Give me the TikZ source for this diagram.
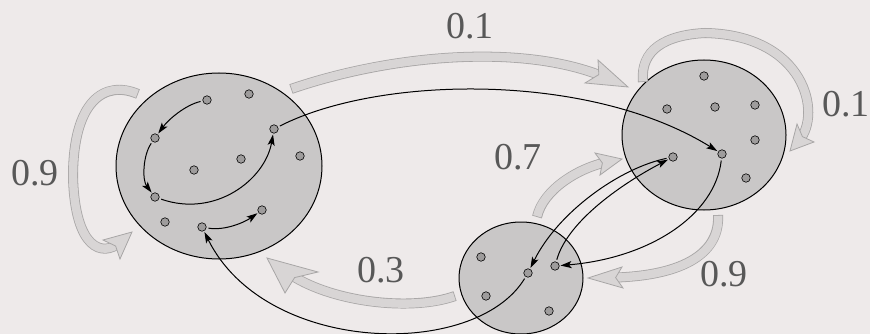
\documentclass[tikz,border=0pt]{standalone}
\usepackage{fontspec}
\setmainfont{Liberation Serif}
\usetikzlibrary{arrows.meta,shapes.geometric}
\definecolor{bg}{RGB}{238,234,234}
\definecolor{regionfill}{RGB}{201,199,199}
\definecolor{dotfill}{RGB}{158,156,156}
\definecolor{flowfill}{RGB}{216,213,213}
\definecolor{flowline}{RGB}{168,166,166}
\definecolor{labelgray}{RGB}{88,88,88}
\tikzset{
 region/.style={ellipse, draw=black, line width=1pt, fill=regionfill, inner sep=0pt},
 state/.style={circle, draw=black, line width=0.6pt, fill=dotfill, minimum size=8.5pt, inner sep=0pt},
 conn/.style={draw=black, line width=1pt, -{Stealth[length=11pt,width=7pt,inset=2.5pt]}, shorten <=2pt, shorten >=1pt},
 flowout/.style={draw=flowline, line width=10pt},
 flowin/.style={draw=flowfill, line width=8.4pt, shorten <=0.8pt},
 flowhead/.style={draw=flowline, fill=flowfill, line width=0.8pt, line join=miter},
 prob/.style={text=labelgray, font=\fontsize{38}{40}\selectfont, inner sep=0pt}
}
\newcommand\flowshaft[1]{\path[flowout] #1; \path[flowin] #1;}
\begin{document}
\begin{tikzpicture}[x=1pt,y=-1pt]
\useasboundingbox (0,0) rectangle (870,334);
\fill[bg] (0,0) rectangle (870,334);

% regions
\node[region, minimum width=206pt, minimum height=186pt] (A) at (219,166) {};
\node[region, minimum width=164pt, minimum height=150pt] (C) at (704,135) {};
\node[region, minimum width=124pt, minimum height=112pt] (B) at (521,278) {};

% wide probability arrows
\flowshaft{(291,89) .. controls (390,55) and (523,42.5) .. (606.1,77.7)}
\draw[flowhead] (628,87) -- (598,60) -- (598.8,74.6) -- (585,83) -- cycle;

\flowshaft{(138,94) .. controls (105,80) and (73,100) .. (73,177) .. controls (75,250) and (103,257) .. (119.7,242.5)}
\draw[flowhead] (132,232) -- (103,240) -- (115.6,246) -- (120,259) -- cycle;

\flowshaft{(643,82) .. controls (640,50) and (665,35) .. (705,33) .. controls (805,35) and (822.1,113.7) .. (799.3,140.2)}
\draw[flowhead] (790,151) -- (797,124) -- (802.4,136.6) -- (814,142) -- cycle;

\flowshaft{(537,217) .. controls (543,190) and (577.9,168) .. (607.3,162)}
\draw[flowhead] (622,159) -- (595,153) -- (602.4,163) -- (600,175) -- cycle;

\flowshaft{(718,215) .. controls (720,250) and (688.7,276.5) .. (608.7,277.7)}
\draw[flowhead] (588,278) -- (622,267) -- (615.6,277.6) -- (623,288) -- cycle;

\flowshaft{(455,296) .. controls (410,312) and (328.5,301.7) .. (287.7,272.7)}
\draw[flowhead] (267,258) -- (318,272) -- (294.6,277.6) -- (285,293) -- cycle;

% labels
\node[prob] (p1) at (470,26) {0.1};
\node[prob] (p2) at (35,173) {0.9};
\node[prob] (p3) at (846,104) {0.1};
\node[prob] (p4) at (518,157) {0.7};
\node[prob] (p5) at (724,274) {0.9};
\node[prob] (p6) at (381,270) {0.3};

% states
\node[state] (L1) at (207,100) {};
\node[state] (L2) at (249,94) {};
\node[state] (L3) at (155,138) {};
\node[state] (L4) at (274,129) {};
\node[state] (L5) at (241,159) {};
\node[state] (L6) at (194,170) {};
\node[state] (L7) at (300,156) {};
\node[state] (L8) at (155,197) {};
\node[state] (L9) at (165,222) {};
\node[state] (L10) at (202,227) {};
\node[state] (L11) at (262,210) {};

\node[state] (R1) at (704,76) {};
\node[state] (R2) at (667,109) {};
\node[state] (R3) at (715,107) {};
\node[state] (R4) at (755,105) {};
\node[state] (R5) at (755,140) {};
\node[state] (R6) at (673,157) {};
\node[state] (R7) at (722,154) {};
\node[state] (R8) at (746,178) {};

\node[state] (S1) at (481,257) {};
\node[state] (S2) at (528,273) {};
\node[state] (S3) at (555,266) {};
\node[state] (S4) at (486,296) {};
\node[state] (S5) at (549,311) {};

% transitions
\draw[conn] (L1) .. controls (185,105) and (168,120) .. (L3);
\draw[conn] (L3) .. controls (143,155) and (142,180) .. (L8);
\draw[conn] (L8) .. controls (215,218) and (265,180) .. (L4);
\draw[conn] (L10) .. controls (225,231) and (245,222) .. (L11);
\draw[conn] (L4) .. controls (380,75) and (590,72) .. (R7);
\draw[conn] (R7) .. controls (715,215) and (650,258) .. (S3);
\draw[conn] (R6) .. controls (620,168) and (558,212) .. (S2);
\draw[conn] (S3) .. controls (568,220) and (625,182) .. (R6);
\draw[conn] (S2) .. controls (475,360) and (265,355) .. (L10);
\end{tikzpicture}
\end{document}
